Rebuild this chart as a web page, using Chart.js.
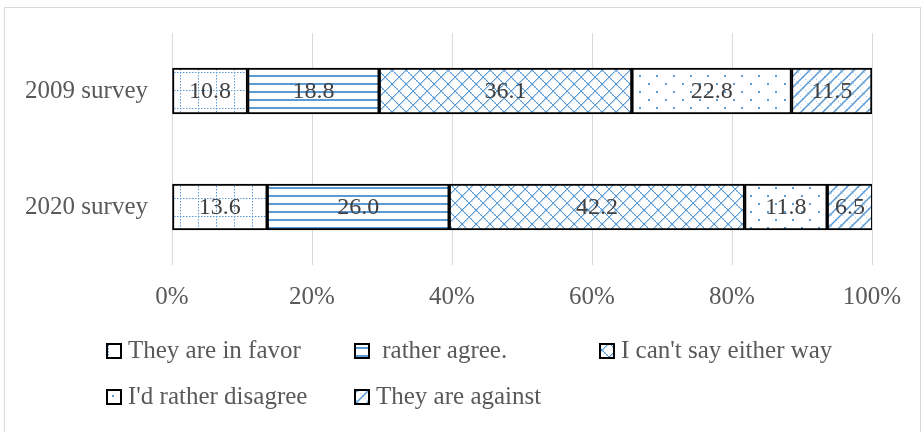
<!DOCTYPE html>
<html>
<head>
<meta charset="utf-8">
<script src="https://cdn.jsdelivr.net/npm/chart.js@4/dist/chart.umd.min.js"></script>
<style>
  html, body { margin: 0; padding: 0; background: #fff; }
  #wrap { width: 922px; height: 432px; }
</style>
</head>
<body>
<div id="wrap"><canvas id="grafico"></canvas></div>
<script>
// survey years (rows) and answer groups (stacked segments)
const surveys = ['2009 survey', '2020 survey'];
const answers = ['They are in favor', ' rather agree.', "I can't say either way", "I'd rather disagree", 'They are against'];
const inFavor = [10.8, 13.6];
const ratherAgree = [18.8, 26.0];
const cantSay = [36.1, 42.2];
const ratherDisagree = [22.8, 11.8];
const against = [11.5, 6.5];
const xTicks = [0, 20, 40, 60, 80, 100];

const AZUL = '#5b9bd5';
const FONTE = "'Liberation Serif', serif";

// small tiles repeated as fills
function criarPadrao(w, h, desenhar) {
    const c = document.createElement('canvas');
    c.width = w; c.height = h;
    const g = c.getContext('2d');
    g.fillStyle = '#fff';
    g.fillRect(0, 0, w, h);
    g.fillStyle = AZUL;
    g.strokeStyle = AZUL;
    desenhar(g, w, h);
    return g.createPattern(c, 'repeat');
}

// dotted grid
const padFavor = criarPadrao(18, 18, (g) => {
    for (let i = 0; i < 18; i += 3) {
        g.fillRect(i, 0, 1.5, 1);
        g.fillRect(0, i, 1, 1.5);
    }
});
// horizontal lines
const padConcorda = criarPadrao(8, 8, (g) => {
    g.fillRect(0, 3, 8, 2);
});
// dotted diagonal cross
const padNeutro = criarPadrao(14, 14, (g) => {
    for (let i = 0; i < 14; i++) {
        const t = i % 2 === 0 ? 1.4 : 1;
        g.fillRect(i, i, t, t);
        g.fillRect(13 - i, i, t, t);
    }
});
// sparse dots
const padDiscorda = criarPadrao(17, 16, (g) => {
    g.fillRect(2, 3, 2, 2);
    g.fillRect(10, 11, 2, 2);
});
// upward diagonals with faint dotted crossing
const padContra = criarPadrao(11, 11, (g) => {
    g.lineWidth = 1.5;
    g.beginPath();
    g.moveTo(-2, 13); g.lineTo(13, -2);
    g.moveTo(-13, 13); g.lineTo(2, -2);
    g.moveTo(9, 13); g.lineTo(24, -2);
    g.stroke();
    g.globalAlpha = 0.5;
    for (let i = 0; i < 11; i += 2) g.fillRect(i, i, 1, 1);
});

const series = [inFavor, ratherAgree, cantSay, ratherDisagree, against];
const padroes = [padFavor, padConcorda, padNeutro, padDiscorda, padContra];

const datasets = series.map((valores, i) => ({
    label: answers[i],
    data: valores,
    backgroundColor: padroes[i],
    borderColor: '#000',
    borderWidth: 2,
    borderSkipped: false,
    barThickness: 46
}));

// frame around the whole chart
const moldura = {
    id: 'moldura',
    beforeDraw(chart) {
        const c = chart.ctx;
        c.save();
        c.fillStyle = '#fff';
        c.fillRect(0, 0, chart.width, chart.height);
        c.strokeStyle = '#d9d9d9';
        c.lineWidth = 1;
        c.strokeRect(4.5, 7.5, 916, 440);
        c.restore();
    }
};

// values written in the middle of each segment
const rotulos = {
    id: 'rotulos',
    afterDatasetsDraw(chart) {
        const c = chart.ctx;
        c.save();
        c.font = '24px ' + FONTE;
        c.fillStyle = '#404040';
        c.textAlign = 'center';
        c.textBaseline = 'middle';
        chart.data.datasets.forEach((ds, i) => {
            chart.getDatasetMeta(i).data.forEach((bar, j) => {
                const x = (bar.x + bar.base) / 2;
                c.fillText(ds.data[j].toFixed(1), x, bar.y + 1);
            });
        });
        c.restore();
    }
};

// legend laid out in fixed columns under the axis
const legendaPos = [
    { x: 107, y: 344 }, { x: 355, y: 344 }, { x: 600, y: 344 },
    { x: 107, y: 390 }, { x: 355, y: 390 }
];
const legenda = {
    id: 'legenda',
    afterDraw(chart) {
        const c = chart.ctx;
        c.save();
        c.font = '25px ' + FONTE;
        c.textBaseline = 'middle';
        c.textAlign = 'left';
        chart.data.datasets.forEach((ds, i) => {
            const p = legendaPos[i];
            c.fillStyle = ds.backgroundColor;
            c.fillRect(p.x, p.y, 14, 14);
            c.strokeStyle = '#000';
            c.lineWidth = 2;
            c.strokeRect(p.x, p.y, 14, 14);
            c.fillStyle = '#595959';
            c.fillText(ds.label, p.x + 21, p.y + 7);
        });
        c.restore();
    }
};

new Chart(document.getElementById('grafico'), {
    type: 'bar',
    data: { labels: surveys, datasets: datasets },
    options: {
        indexAxis: 'y',
        responsive: true,
        maintainAspectRatio: false,
        animation: false,
        layout: { padding: { top: 33, right: 50, bottom: 107, left: 0 } },
        plugins: {
            legend: { display: false },
            tooltip: { enabled: false }
        },
        scales: {
            x: {
                stacked: true,
                min: 0,
                max: 100,
                afterBuildTicks: (scale) => { scale.ticks = xTicks.map(v => ({ value: v })); },
                afterFit: (scale) => { scale.height = 60; },
                grid: { color: '#d9d9d9', drawTicks: false },
                border: { display: false },
                ticks: {
                    padding: 17,
                    color: '#595959',
                    font: { family: FONTE, size: 25 },
                    callback: v => v + '%'
                }
            },
            y: {
                stacked: true,
                afterFit: (scale) => {
                    scale.width = 172;
                    scale.paddingTop = 0;
                    scale.paddingBottom = 0;
                },
                grid: { display: false, drawTicks: false },
                border: { display: false },
                ticks: {
                    padding: 24,
                    color: '#595959',
                    font: { family: FONTE, size: 25 }
                }
            }
        }
    },
    plugins: [moldura, rotulos, legenda]
});
</script>
</body>
</html>
